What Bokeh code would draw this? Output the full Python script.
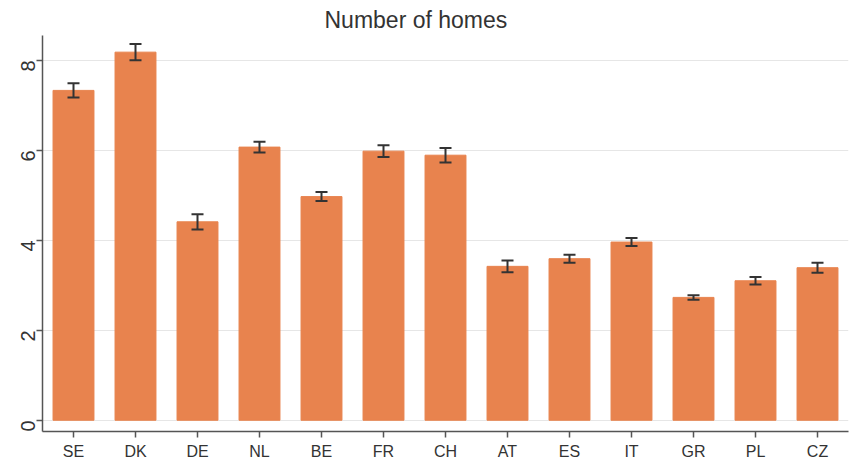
from bokeh.plotting import figure
from bokeh.models import ColumnDataSource, Range1d, FactorRange, FixedTicker
from bokeh.embed import file_html
from bokeh.resources import INLINE
import math

countries = ["SE", "DK", "DE", "NL", "BE", "FR", "CH", "AT", "ES", "IT", "GR", "PL", "CZ"]
values = [7.33, 8.18, 4.41, 6.07, 4.97, 5.98, 5.89, 3.42, 3.59, 3.96, 2.73, 3.10, 3.39]
errors = [0.16, 0.18, 0.17, 0.12, 0.10, 0.13, 0.16, 0.13, 0.09, 0.09, 0.05, 0.085, 0.11]
y_ticks = [0, 2, 4, 6, 8]

src = ColumnDataSource(dict(
    x=countries, top=values,
    lower=[v - e for v, e in zip(values, errors)],
    upper=[v + e for v, e in zip(values, errors)],
))

p = figure(width=850, height=463, output_backend="svg", toolbar_location=None,
           x_range=FactorRange(*countries, range_padding=0),
           y_range=Range1d(-0.25, 8.55),
           min_border_left=42, min_border_right=2, min_border_top=35, min_border_bottom=32,
           title="Number of homes")

p.title.align = "left"
p.title.text_font = "Liberation Sans"
p.title.text_font_size = "23px"
p.title.text_font_style = "normal"
p.title.text_color = "#333333"
p.title.offset = 282
p.title.standoff = 6

p.vbar(x="x", top="top", bottom=0, width=0.66, source=src,
       fill_color="#E8834E", line_color="#E8834E")

p.segment(x0="x", y0="lower", x1="x", y1="upper", source=src,
          line_color="#333333", line_width=2)
p.scatter(x="x", y="lower", source=src, marker="dash", size=12,
          line_color="#333333", line_width=2)
p.scatter(x="x", y="upper", source=src, marker="dash", size=12,
          line_color="#333333", line_width=2)

p.outline_line_color = None
p.xgrid.grid_line_color = None
p.ygrid.grid_line_color = "#e6e6e6"
p.ygrid.grid_line_width = 1
p.yaxis.ticker = FixedTicker(ticks=y_ticks)
p.yaxis.minor_tick_line_color = None
p.yaxis.major_label_orientation = math.pi / 2

for ax in (p.xaxis, p.yaxis):
    ax.axis_line_color = "#555555"
    ax.axis_line_width = 1.5
    ax.major_tick_line_color = "#555555"
    ax.major_tick_line_width = 1.5
    ax.major_tick_out = 6
    ax.major_tick_in = 0
    ax.major_label_text_font = "Liberation Sans"
    ax.major_label_text_color = "#333333"
    ax.axis_label_standoff = 0

p.xaxis.major_label_standoff = 5
p.yaxis.major_label_standoff = 9
p.xaxis.major_label_text_font_size = "16px"
p.yaxis.major_label_text_font_size = "20px"

open("out.html", "w").write(file_html(p, INLINE))
